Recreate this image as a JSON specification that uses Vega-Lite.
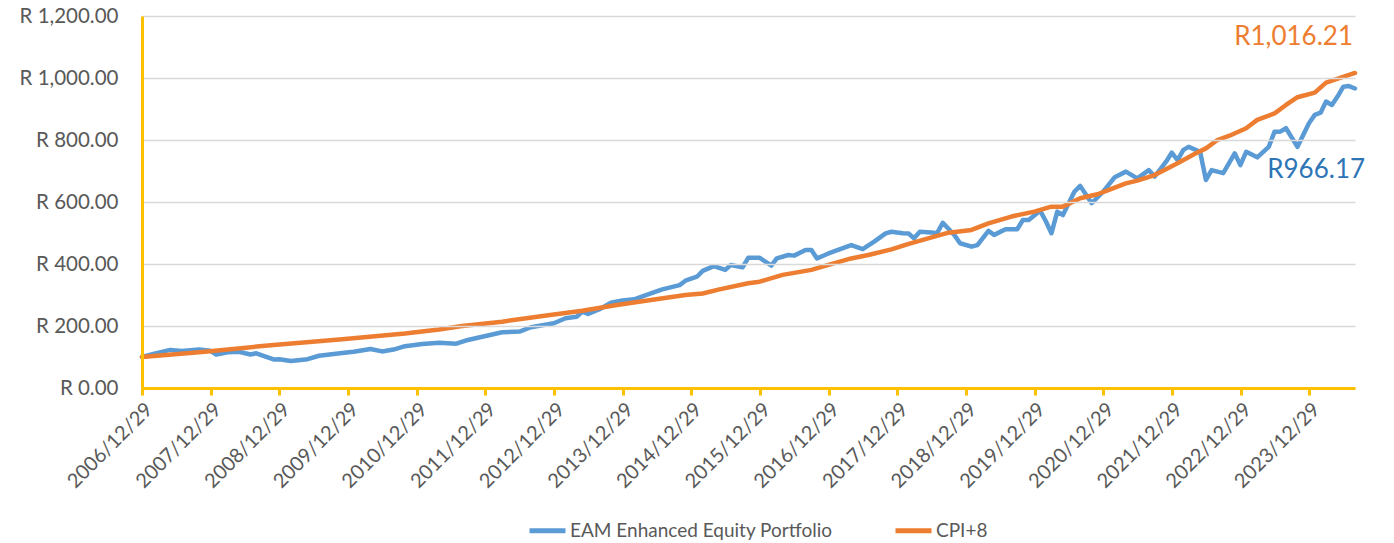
{
  "$schema": "https://vega.github.io/schema/vega-lite/v6.json",
  "width": 1213,
  "height": 372,
  "autosize": {"type": "none"},
  "padding": {"left": 142, "top": 16, "right": 39, "bottom": 155},
  "background": "white",
  "config": {
    "view": {"stroke": null},
    "font": "Lato",
    "axis": {"labelFont": "Lato", "labelColor": "#595959"},
    "legend": {"labelFont": "Lato"}
  },
  "datasets": {
    "lines": [
      {"date": "2006-12-29", "series": "EAM Enhanced Equity Portfolio", "value": 100},
      {"date": "2007-02-28", "series": "EAM Enhanced Equity Portfolio", "value": 110},
      {"date": "2007-05-28", "series": "EAM Enhanced Equity Portfolio", "value": 123},
      {"date": "2007-07-28", "series": "EAM Enhanced Equity Portfolio", "value": 119},
      {"date": "2007-10-28", "series": "EAM Enhanced Equity Portfolio", "value": 124},
      {"date": "2007-12-28", "series": "EAM Enhanced Equity Portfolio", "value": 120},
      {"date": "2008-01-28", "series": "EAM Enhanced Equity Portfolio", "value": 108},
      {"date": "2008-03-28", "series": "EAM Enhanced Equity Portfolio", "value": 115},
      {"date": "2008-05-28", "series": "EAM Enhanced Equity Portfolio", "value": 117},
      {"date": "2008-07-28", "series": "EAM Enhanced Equity Portfolio", "value": 108},
      {"date": "2008-08-28", "series": "EAM Enhanced Equity Portfolio", "value": 112},
      {"date": "2008-11-28", "series": "EAM Enhanced Equity Portfolio", "value": 92},
      {"date": "2008-12-28", "series": "EAM Enhanced Equity Portfolio", "value": 93},
      {"date": "2009-02-28", "series": "EAM Enhanced Equity Portfolio", "value": 87},
      {"date": "2009-05-28", "series": "EAM Enhanced Equity Portfolio", "value": 93},
      {"date": "2009-07-28", "series": "EAM Enhanced Equity Portfolio", "value": 104},
      {"date": "2009-11-28", "series": "EAM Enhanced Equity Portfolio", "value": 113},
      {"date": "2010-01-28", "series": "EAM Enhanced Equity Portfolio", "value": 117},
      {"date": "2010-04-28", "series": "EAM Enhanced Equity Portfolio", "value": 126},
      {"date": "2010-06-28", "series": "EAM Enhanced Equity Portfolio", "value": 118},
      {"date": "2010-08-28", "series": "EAM Enhanced Equity Portfolio", "value": 124},
      {"date": "2010-10-28", "series": "EAM Enhanced Equity Portfolio", "value": 135},
      {"date": "2011-01-28", "series": "EAM Enhanced Equity Portfolio", "value": 142},
      {"date": "2011-04-28", "series": "EAM Enhanced Equity Portfolio", "value": 146},
      {"date": "2011-07-28", "series": "EAM Enhanced Equity Portfolio", "value": 143},
      {"date": "2011-09-28", "series": "EAM Enhanced Equity Portfolio", "value": 155},
      {"date": "2012-03-28", "series": "EAM Enhanced Equity Portfolio", "value": 180},
      {"date": "2012-06-28", "series": "EAM Enhanced Equity Portfolio", "value": 182},
      {"date": "2012-08-28", "series": "EAM Enhanced Equity Portfolio", "value": 196},
      {"date": "2012-12-28", "series": "EAM Enhanced Equity Portfolio", "value": 209},
      {"date": "2013-02-28", "series": "EAM Enhanced Equity Portfolio", "value": 225},
      {"date": "2013-04-28", "series": "EAM Enhanced Equity Portfolio", "value": 230},
      {"date": "2013-05-28", "series": "EAM Enhanced Equity Portfolio", "value": 246},
      {"date": "2013-06-28", "series": "EAM Enhanced Equity Portfolio", "value": 239},
      {"date": "2013-08-28", "series": "EAM Enhanced Equity Portfolio", "value": 254},
      {"date": "2013-10-28", "series": "EAM Enhanced Equity Portfolio", "value": 275},
      {"date": "2013-12-28", "series": "EAM Enhanced Equity Portfolio", "value": 282},
      {"date": "2014-02-28", "series": "EAM Enhanced Equity Portfolio", "value": 286},
      {"date": "2014-05-28", "series": "EAM Enhanced Equity Portfolio", "value": 305},
      {"date": "2014-07-28", "series": "EAM Enhanced Equity Portfolio", "value": 318},
      {"date": "2014-10-28", "series": "EAM Enhanced Equity Portfolio", "value": 332},
      {"date": "2014-11-28", "series": "EAM Enhanced Equity Portfolio", "value": 346},
      {"date": "2015-01-28", "series": "EAM Enhanced Equity Portfolio", "value": 359},
      {"date": "2015-02-28", "series": "EAM Enhanced Equity Portfolio", "value": 378},
      {"date": "2015-04-28", "series": "EAM Enhanced Equity Portfolio", "value": 393},
      {"date": "2015-06-28", "series": "EAM Enhanced Equity Portfolio", "value": 381},
      {"date": "2015-07-28", "series": "EAM Enhanced Equity Portfolio", "value": 397},
      {"date": "2015-09-28", "series": "EAM Enhanced Equity Portfolio", "value": 389},
      {"date": "2015-10-28", "series": "EAM Enhanced Equity Portfolio", "value": 420},
      {"date": "2015-12-28", "series": "EAM Enhanced Equity Portfolio", "value": 420},
      {"date": "2016-02-28", "series": "EAM Enhanced Equity Portfolio", "value": 395},
      {"date": "2016-03-28", "series": "EAM Enhanced Equity Portfolio", "value": 418},
      {"date": "2016-05-28", "series": "EAM Enhanced Equity Portfolio", "value": 429},
      {"date": "2016-06-28", "series": "EAM Enhanced Equity Portfolio", "value": 427},
      {"date": "2016-08-28", "series": "EAM Enhanced Equity Portfolio", "value": 445},
      {"date": "2016-09-28", "series": "EAM Enhanced Equity Portfolio", "value": 445},
      {"date": "2016-10-28", "series": "EAM Enhanced Equity Portfolio", "value": 418},
      {"date": "2016-12-28", "series": "EAM Enhanced Equity Portfolio", "value": 434},
      {"date": "2017-02-28", "series": "EAM Enhanced Equity Portfolio", "value": 448},
      {"date": "2017-04-28", "series": "EAM Enhanced Equity Portfolio", "value": 461},
      {"date": "2017-06-28", "series": "EAM Enhanced Equity Portfolio", "value": 448},
      {"date": "2017-08-28", "series": "EAM Enhanced Equity Portfolio", "value": 472},
      {"date": "2017-10-28", "series": "EAM Enhanced Equity Portfolio", "value": 499},
      {"date": "2017-11-28", "series": "EAM Enhanced Equity Portfolio", "value": 504},
      {"date": "2018-01-28", "series": "EAM Enhanced Equity Portfolio", "value": 499},
      {"date": "2018-02-28", "series": "EAM Enhanced Equity Portfolio", "value": 498},
      {"date": "2018-03-28", "series": "EAM Enhanced Equity Portfolio", "value": 483},
      {"date": "2018-04-28", "series": "EAM Enhanced Equity Portfolio", "value": 504},
      {"date": "2018-06-28", "series": "EAM Enhanced Equity Portfolio", "value": 502},
      {"date": "2018-07-28", "series": "EAM Enhanced Equity Portfolio", "value": 499},
      {"date": "2018-08-28", "series": "EAM Enhanced Equity Portfolio", "value": 533},
      {"date": "2018-10-28", "series": "EAM Enhanced Equity Portfolio", "value": 494},
      {"date": "2018-11-28", "series": "EAM Enhanced Equity Portfolio", "value": 467},
      {"date": "2019-01-28", "series": "EAM Enhanced Equity Portfolio", "value": 456},
      {"date": "2019-02-28", "series": "EAM Enhanced Equity Portfolio", "value": 461},
      {"date": "2019-03-28", "series": "EAM Enhanced Equity Portfolio", "value": 483},
      {"date": "2019-04-28", "series": "EAM Enhanced Equity Portfolio", "value": 507},
      {"date": "2019-05-28", "series": "EAM Enhanced Equity Portfolio", "value": 494},
      {"date": "2019-07-28", "series": "EAM Enhanced Equity Portfolio", "value": 512},
      {"date": "2019-09-28", "series": "EAM Enhanced Equity Portfolio", "value": 512},
      {"date": "2019-10-28", "series": "EAM Enhanced Equity Portfolio", "value": 542},
      {"date": "2019-11-28", "series": "EAM Enhanced Equity Portfolio", "value": 542},
      {"date": "2020-01-28", "series": "EAM Enhanced Equity Portfolio", "value": 572},
      {"date": "2020-02-28", "series": "EAM Enhanced Equity Portfolio", "value": 537},
      {"date": "2020-03-28", "series": "EAM Enhanced Equity Portfolio", "value": 499},
      {"date": "2020-04-28", "series": "EAM Enhanced Equity Portfolio", "value": 569},
      {"date": "2020-05-28", "series": "EAM Enhanced Equity Portfolio", "value": 558},
      {"date": "2020-07-28", "series": "EAM Enhanced Equity Portfolio", "value": 633},
      {"date": "2020-08-28", "series": "EAM Enhanced Equity Portfolio", "value": 652},
      {"date": "2020-10-28", "series": "EAM Enhanced Equity Portfolio", "value": 596},
      {"date": "2020-12-28", "series": "EAM Enhanced Equity Portfolio", "value": 633},
      {"date": "2021-02-28", "series": "EAM Enhanced Equity Portfolio", "value": 680},
      {"date": "2021-04-28", "series": "EAM Enhanced Equity Portfolio", "value": 698},
      {"date": "2021-06-28", "series": "EAM Enhanced Equity Portfolio", "value": 676},
      {"date": "2021-08-28", "series": "EAM Enhanced Equity Portfolio", "value": 703},
      {"date": "2021-09-28", "series": "EAM Enhanced Equity Portfolio", "value": 682},
      {"date": "2021-11-28", "series": "EAM Enhanced Equity Portfolio", "value": 730},
      {"date": "2021-12-28", "series": "EAM Enhanced Equity Portfolio", "value": 759},
      {"date": "2022-01-28", "series": "EAM Enhanced Equity Portfolio", "value": 735},
      {"date": "2022-02-28", "series": "EAM Enhanced Equity Portfolio", "value": 768},
      {"date": "2022-03-28", "series": "EAM Enhanced Equity Portfolio", "value": 778},
      {"date": "2022-05-28", "series": "EAM Enhanced Equity Portfolio", "value": 762},
      {"date": "2022-06-28", "series": "EAM Enhanced Equity Portfolio", "value": 671},
      {"date": "2022-07-28", "series": "EAM Enhanced Equity Portfolio", "value": 703},
      {"date": "2022-09-28", "series": "EAM Enhanced Equity Portfolio", "value": 693},
      {"date": "2022-11-28", "series": "EAM Enhanced Equity Portfolio", "value": 757},
      {"date": "2022-12-28", "series": "EAM Enhanced Equity Portfolio", "value": 719},
      {"date": "2023-01-28", "series": "EAM Enhanced Equity Portfolio", "value": 762},
      {"date": "2023-03-28", "series": "EAM Enhanced Equity Portfolio", "value": 744},
      {"date": "2023-05-28", "series": "EAM Enhanced Equity Portfolio", "value": 778},
      {"date": "2023-06-28", "series": "EAM Enhanced Equity Portfolio", "value": 827},
      {"date": "2023-07-28", "series": "EAM Enhanced Equity Portfolio", "value": 827},
      {"date": "2023-08-28", "series": "EAM Enhanced Equity Portfolio", "value": 838},
      {"date": "2023-10-28", "series": "EAM Enhanced Equity Portfolio", "value": 778},
      {"date": "2023-12-28", "series": "EAM Enhanced Equity Portfolio", "value": 854},
      {"date": "2024-01-28", "series": "EAM Enhanced Equity Portfolio", "value": 881},
      {"date": "2024-02-28", "series": "EAM Enhanced Equity Portfolio", "value": 888},
      {"date": "2024-03-28", "series": "EAM Enhanced Equity Portfolio", "value": 924},
      {"date": "2024-04-28", "series": "EAM Enhanced Equity Portfolio", "value": 913},
      {"date": "2024-05-28", "series": "EAM Enhanced Equity Portfolio", "value": 940},
      {"date": "2024-06-28", "series": "EAM Enhanced Equity Portfolio", "value": 972},
      {"date": "2024-07-28", "series": "EAM Enhanced Equity Portfolio", "value": 974},
      {"date": "2024-08-29", "series": "EAM Enhanced Equity Portfolio", "value": 966.17},
      {"date": "2006-12-29", "series": "CPI+8", "value": 100},
      {"date": "2007-11-28", "series": "CPI+8", "value": 117},
      {"date": "2008-11-28", "series": "CPI+8", "value": 139},
      {"date": "2009-11-28", "series": "CPI+8", "value": 157},
      {"date": "2010-10-28", "series": "CPI+8", "value": 176},
      {"date": "2011-04-28", "series": "CPI+8", "value": 189},
      {"date": "2011-08-28", "series": "CPI+8", "value": 200},
      {"date": "2012-03-28", "series": "CPI+8", "value": 214},
      {"date": "2012-11-28", "series": "CPI+8", "value": 235},
      {"date": "2013-05-28", "series": "CPI+8", "value": 249},
      {"date": "2013-11-28", "series": "CPI+8", "value": 268},
      {"date": "2014-05-28", "series": "CPI+8", "value": 284},
      {"date": "2014-11-28", "series": "CPI+8", "value": 300},
      {"date": "2015-02-28", "series": "CPI+8", "value": 305},
      {"date": "2015-05-28", "series": "CPI+8", "value": 318},
      {"date": "2015-10-28", "series": "CPI+8", "value": 338},
      {"date": "2015-12-28", "series": "CPI+8", "value": 343},
      {"date": "2016-04-28", "series": "CPI+8", "value": 365},
      {"date": "2016-09-28", "series": "CPI+8", "value": 381},
      {"date": "2016-12-28", "series": "CPI+8", "value": 397},
      {"date": "2017-04-28", "series": "CPI+8", "value": 418},
      {"date": "2017-07-28", "series": "CPI+8", "value": 429},
      {"date": "2017-11-28", "series": "CPI+8", "value": 447},
      {"date": "2018-02-28", "series": "CPI+8", "value": 465},
      {"date": "2018-05-28", "series": "CPI+8", "value": 480},
      {"date": "2018-09-28", "series": "CPI+8", "value": 501},
      {"date": "2019-01-28", "series": "CPI+8", "value": 510},
      {"date": "2019-04-28", "series": "CPI+8", "value": 531},
      {"date": "2019-08-28", "series": "CPI+8", "value": 553},
      {"date": "2019-12-28", "series": "CPI+8", "value": 569},
      {"date": "2020-03-28", "series": "CPI+8", "value": 585},
      {"date": "2020-05-28", "series": "CPI+8", "value": 585},
      {"date": "2020-08-28", "series": "CPI+8", "value": 612},
      {"date": "2020-11-28", "series": "CPI+8", "value": 625},
      {"date": "2021-01-28", "series": "CPI+8", "value": 639},
      {"date": "2021-04-28", "series": "CPI+8", "value": 660},
      {"date": "2021-06-28", "series": "CPI+8", "value": 669},
      {"date": "2021-09-28", "series": "CPI+8", "value": 687},
      {"date": "2022-01-28", "series": "CPI+8", "value": 725},
      {"date": "2022-04-28", "series": "CPI+8", "value": 755},
      {"date": "2022-06-28", "series": "CPI+8", "value": 773},
      {"date": "2022-08-28", "series": "CPI+8", "value": 800},
      {"date": "2022-10-28", "series": "CPI+8", "value": 813},
      {"date": "2023-01-28", "series": "CPI+8", "value": 838},
      {"date": "2023-03-28", "series": "CPI+8", "value": 865},
      {"date": "2023-06-28", "series": "CPI+8", "value": 886},
      {"date": "2023-08-28", "series": "CPI+8", "value": 913},
      {"date": "2023-10-28", "series": "CPI+8", "value": 938},
      {"date": "2024-01-28", "series": "CPI+8", "value": 953},
      {"date": "2024-03-28", "series": "CPI+8", "value": 985},
      {"date": "2024-08-29", "series": "CPI+8", "value": 1016.21}
    ],
    "labels": [
      {"date": "2024-08-29", "value": 1132, "label": "R1,016.21", "series": "CPI+8"},
      {"date": "2023-05-20", "value": 703, "label": "R966.17", "series": "EAM Enhanced Equity Portfolio"}
    ]
  },
  "layer": [
    {
      "data": {"name": "lines"},
      "mark": {"type": "line", "strokeWidth": 4.5, "strokeCap": "round", "strokeJoin": "round", "clip": false},
      "encoding": {
        "x": {
          "field": "date",
          "type": "temporal",
          "scale": {
            "type": "utc",
            "domain": [
              {"year": 2006, "month": 12, "date": 29, "utc": true},
              {"year": 2024, "month": 8, "date": 29, "utc": true}
            ]
          },
          "axis": {
            "title": null,
            "values": [
              {"year": 2006, "month": 12, "date": 29, "utc": true},
              {"year": 2007, "month": 12, "date": 29, "utc": true},
              {"year": 2008, "month": 12, "date": 29, "utc": true},
              {"year": 2009, "month": 12, "date": 29, "utc": true},
              {"year": 2010, "month": 12, "date": 29, "utc": true},
              {"year": 2011, "month": 12, "date": 29, "utc": true},
              {"year": 2012, "month": 12, "date": 29, "utc": true},
              {"year": 2013, "month": 12, "date": 29, "utc": true},
              {"year": 2014, "month": 12, "date": 29, "utc": true},
              {"year": 2015, "month": 12, "date": 29, "utc": true},
              {"year": 2016, "month": 12, "date": 29, "utc": true},
              {"year": 2017, "month": 12, "date": 29, "utc": true},
              {"year": 2018, "month": 12, "date": 29, "utc": true},
              {"year": 2019, "month": 12, "date": 29, "utc": true},
              {"year": 2020, "month": 12, "date": 29, "utc": true},
              {"year": 2021, "month": 12, "date": 29, "utc": true},
              {"year": 2022, "month": 12, "date": 29, "utc": true},
              {"year": 2023, "month": 12, "date": 29, "utc": true}
            ],
            "labelExpr": "utcFormat(datum.value, '%Y/%m/%d')",
            "labelAngle": -45,
            "labelFontSize": 20,
            "labelPadding": 4,
            "labelOverlap": false,
            "labelBound": false,
            "labelFlush": false,
            "grid": false,
            "domainColor": "#FFC000",
            "domainWidth": 3,
            "tickColor": "#FFC000",
            "tickWidth": 3,
            "tickSize": 7,
            "zindex": 1
          }
        },
        "y": {
          "field": "value",
          "type": "quantitative",
          "scale": {"domain": [0, 1200], "nice": false},
          "axis": {
            "title": null,
            "values": [0, 200, 400, 600, 800, 1000, 1200],
            "labelExpr": "'R ' + format(datum.value, ',.2f')",
            "labelFontSize": 20.5,
            "labelPadding": 24,
            "ticks": false,
            "grid": true,
            "gridColor": "#D9D9D9",
            "gridWidth": 1.5,
            "domainColor": "#FFC000",
            "domainWidth": 3,
            "zindex": 1
          }
        },
        "color": {
          "field": "series",
          "type": "nominal",
          "scale": {"domain": ["EAM Enhanced Equity Portfolio", "CPI+8"], "range": ["#5B9BD5", "#ED7D31"]},
          "legend": {
            "title": null,
            "orient": "none",
            "legendX": 385,
            "legendY": 494,
            "direction": "horizontal",
            "symbolType": "stroke",
            "symbolStrokeWidth": 5,
            "symbolSize": 1296,
            "symbolOffset": 0,
            "labelOffset": 2,
            "labelFontSize": 19,
            "labelLimit": 500,
            "labelColor": "#595959",
            "columnPadding": 52
          }
        }
      }
    },
    {
      "data": {"name": "labels"},
      "transform": [{"filter": "datum.series === 'CPI+8'"}],
      "mark": {"type": "text", "align": "right", "baseline": "middle", "fontSize": 26, "color": "#ED7D31", "dx": -2},
      "encoding": {
        "x": {"field": "date", "type": "temporal"},
        "y": {"field": "value", "type": "quantitative"},
        "text": {"field": "label"}
      }
    },
    {
      "data": {"name": "labels"},
      "transform": [{"filter": "datum.series !== 'CPI+8'"}],
      "mark": {"type": "text", "align": "left", "baseline": "middle", "fontSize": 26, "color": "#2E75B6"},
      "encoding": {
        "x": {"field": "date", "type": "temporal"},
        "y": {"field": "value", "type": "quantitative"},
        "text": {"field": "label"}
      }
    }
  ]
}
